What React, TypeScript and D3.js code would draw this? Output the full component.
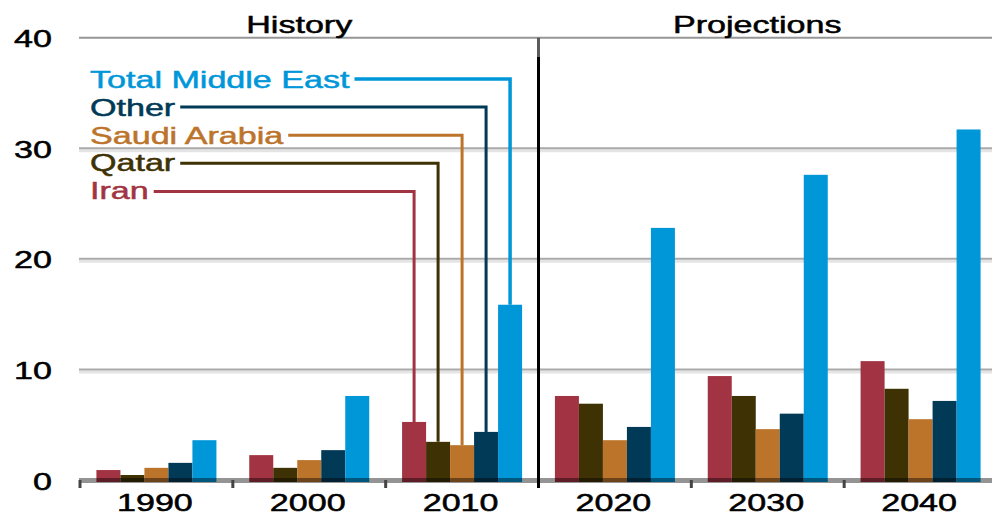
import React, { useEffect, useRef } from "react";
import * as d3 from "d3";

const categories = ["1990", "2000", "2010", "2020", "2030", "2040"];
const seriesNames = ["Iran", "Qatar", "Saudi Arabia", "Other", "Total Middle East"];
const iran = [0.9, 2.25, 5.25, 7.6, 9.4, 10.75];
const qatar = [0.45, 1.1, 3.45, 6.9, 7.6, 8.25];
const saudi = [1.1, 1.8, 3.15, 3.6, 4.6, 5.5];
const other = [1.55, 2.7, 4.35, 4.8, 6.0, 7.15];
const total = [3.6, 7.6, 15.85, 22.8, 27.6, 31.7];
const yTicks = [0, 10, 20, 30, 40];
const historyCats = ["1990", "2000", "2010"];
const projectionCats = ["2020", "2030", "2040"];
const legendOrder = ["Total Middle East", "Other", "Saudi Arabia", "Qatar", "Iran"];
const calloutCategory = "2010";

const colors: Record<string, string> = {
  Iran: "#A23342",
  Qatar: "#3E3104",
  "Saudi Arabia": "#BC742B",
  Other: "#013A56",
  "Total Middle East": "#0097D9",
};

const W = 992;
const H = 516;
const FONT = "'Liberation Sans', Arial, Helvetica, sans-serif";
const SX = 1.42;
const TEXT_STROKE = 0.5;

export default function App() {
  const ref = useRef<SVGSVGElement | null>(null);

  useEffect(() => {
    const svg = d3.select(ref.current);
    svg.selectAll("*").remove();

    const values: Record<string, number[]> = {
      Iran: iran,
      Qatar: qatar,
      "Saudi Arabia": saudi,
      Other: other,
      "Total Middle East": total,
    };

    const plotLeft = 79;
    const plotRight = 992;
    const y = d3.scaleLinear().domain([0, 40]).range([480, 37.7]);
    const x = d3.scaleBand<string>().domain(categories).range([80, 997]);
    const groupW = 120;
    const inner = d3.scaleBand<string>().domain(seriesNames).range([0, groupW]);
    const off = (x.bandwidth() - groupW) / 2;

    const g = svg.append("g");

    const addText = (tx: number, ty: number, txt: string, anchor: string, color: string) =>
      g.append("text")
        .attr("transform", `translate(${tx},${ty}) scale(${SX},1)`)
        .attr("text-anchor", anchor)
        .attr("font-family", FONT)
        .attr("font-size", 24)
        .attr("fill", color)
        .attr("stroke", color)
        .attr("stroke-width", TEXT_STROKE)
        .text(txt);

    // gridlines
    yTicks.forEach((t) => {
      if (t === 0) return;
      const yy = y(t);
      if (t === 40) {
        g.append("line").attr("x1", plotLeft).attr("x2", plotRight).attr("y1", yy).attr("y2", yy)
          .attr("stroke", "#969696").attr("stroke-width", 2);
      } else {
        g.append("line").attr("x1", plotLeft).attr("x2", plotRight).attr("y1", yy + 2.5).attr("y2", yy + 2.5)
          .attr("stroke", "#e4e4e4").attr("stroke-width", 3);
        g.append("line").attr("x1", plotLeft).attr("x2", plotRight).attr("y1", yy).attr("y2", yy)
          .attr("stroke", "#aaaaaa").attr("stroke-width", 2);
      }
    });

    // y labels
    yTicks.forEach((t) => {
      addText(52, y(t) + 9.5, String(t), "end", "#000");
    });

    // bars
    seriesNames.forEach((s) => {
      g.selectAll(null)
        .data(categories.map((c, i) => ({ c, v: values[s][i] })))
        .enter()
        .append("rect")
        .attr("x", (d) => (x(d.c) as number) + off + (inner(s) as number))
        .attr("width", inner.bandwidth())
        .attr("y", (d) => y(d.v))
        .attr("height", (d) => y(0) - y(d.v) + 2)
        .attr("fill", colors[s]);
    });

    // axis line (semi transparent so bars darken at the bottom)
    g.append("line").attr("x1", plotLeft).attr("x2", plotRight).attr("y1", y(0) + 0.5).attr("y2", y(0) + 0.5)
      .attr("stroke", "#000").attr("stroke-opacity", 0.42).attr("stroke-width", 5);

    // ticks at band boundaries
    const divX = x(projectionCats[0]) as number;
    categories.forEach((c) => {
      const bx = x(c) as number;
      if (c === projectionCats[0]) return;
      g.append("line").attr("x1", bx).attr("x2", bx).attr("y1", y(0)).attr("y2", y(0) + 8)
        .attr("stroke", "#444").attr("stroke-width", 3);
    });

    // divider
    g.append("line").attr("x1", divX).attr("x2", divX).attr("y1", y(40)).attr("y2", 58)
      .attr("stroke", "#5b5b5b").attr("stroke-width", 3);
    g.append("line").attr("x1", divX).attr("x2", divX).attr("y1", 57).attr("y2", y(0) + 8)
      .attr("stroke", "#000").attr("stroke-width", 3);

    // x labels
    categories.forEach((c) => {
      addText((x(c) as number) + x.bandwidth() / 2 - 1.5, 510.5, c, "middle", "#000");
    });

    // period headers
    const histL = x(historyCats[0]) as number;
    const projR = plotRight;
    [
      { label: "History", cx: (histL + divX) / 2 - 10 },
      { label: "Projections", cx: (divX + projR) / 2 - 8 },
    ].forEach((h) => {
      addText(h.cx, 33, h.label, "middle", "#000");
    });

    // legend callouts
    const ci = categories.indexOf(calloutCategory);
    legendOrder.forEach((s, i) => {
      const base = 88 + i * 27.8;
      const t = addText(90, base, s, "start", colors[s]);
      const len = (t.node() as SVGTextElement).getComputedTextLength() * SX;
      const ly = base - 9 + i * 0.3;
      const vx = (x(calloutCategory) as number) + off + (inner(s) as number) + inner.bandwidth() / 2;
      const path = d3.path();
      path.moveTo(90 + len + 5, ly);
      path.lineTo(vx, ly);
      path.lineTo(vx, y(values[s][ci]));
      g.append("path").attr("d", path.toString()).attr("fill", "none")
        .attr("stroke", colors[s]).attr("stroke-width", s === "Total Middle East" ? 3.5 : 3);
    });
  }, []);

  return (
    <svg
      ref={ref}
      width={W}
      height={H}
      style={{ position: "absolute", left: 0, top: 0, background: "#fff" }}
    />
  );
}
